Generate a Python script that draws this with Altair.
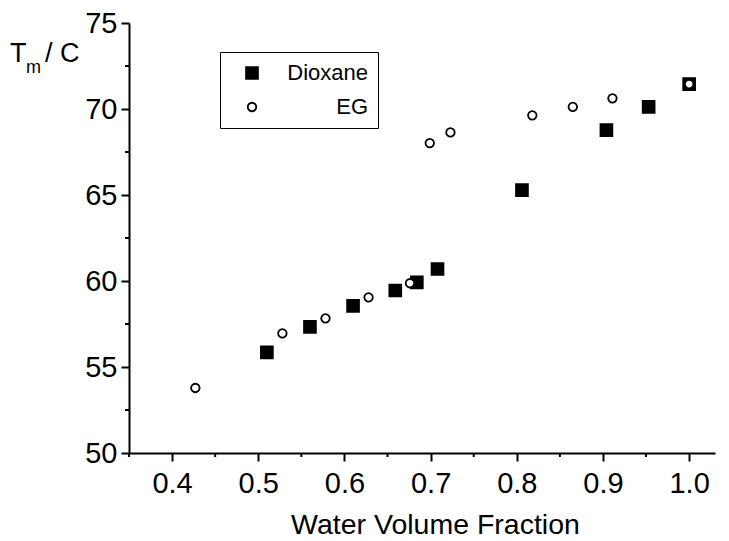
import altair as alt
import pandas as pd

# ---- data ----
dioxane_x = [0.510, 0.560, 0.610, 0.659, 0.684, 0.708, 0.806, 0.904, 0.953, 1.000]
dioxane_y = [55.85, 57.33, 58.55, 59.45, 59.92, 60.70, 65.28, 68.77, 70.12, 71.45]
eg_x = [0.427, 0.528, 0.578, 0.628, 0.676, 0.699, 0.723, 0.818, 0.865, 0.911, 1.000]
eg_y = [53.78, 56.95, 57.83, 59.05, 59.87, 68.02, 68.64, 69.63, 70.12, 70.62, 71.45]
series_names = ["Dioxane", "EG"]

x_major = [0.4, 0.5, 0.6, 0.7, 0.8, 0.9, 1.0]
x_minor = [0.35, 0.45, 0.55, 0.65, 0.75, 0.85, 0.95]
y_major = [50, 55, 60, 65, 70, 75]
y_minor = [52.5, 57.5, 62.5, 67.5, 72.5]

df = pd.DataFrame(
    {
        "series": [series_names[0]] * len(dioxane_x) + [series_names[1]] * len(eg_x),
        "x": dioxane_x + eg_x,
        "y": dioxane_y + eg_y,
    }
)

FONT = "Liberation Sans"
W, H = 586, 430
XDOM = [0.35, 1.03]
YDOM = [50, 75]

xscale = alt.Scale(domain=XDOM, nice=False, zero=False)
yscale = alt.Scale(domain=YDOM, nice=False, zero=False)

legend = alt.Legend(
    orient="none", legendX=91, legendY=29, title=None,
    strokeColor="black", padding=10, symbolOffset=11, labelOffset=105,
    labelFontSize=22, labelFont=FONT, labelColor="black", rowPadding=12,
    symbolStrokeWidth=1.8, symbolStrokeColor="black", labelAlign="right",
)

points = alt.Chart(df).mark_point(filled=True, stroke="black", strokeWidth=1.8, opacity=1).encode(
    x=alt.X("x:Q", scale=xscale,
            axis=alt.Axis(values=x_major, format=".1f", title="Water Volume Fraction",
                          titleX=306, titleY=80, titleAlign="center", titleBaseline="alphabetic",
                          titleFontSize=28.5, titleFont=FONT, titleFontWeight="normal",
                          titleColor="black",
                          labelFontSize=29, labelFont=FONT, labelColor="black",
                          labelBaseline="alphabetic",
                          labelPadding=31, tickSize=8, tickWidth=2, tickColor="black",
                          domainColor="black", domainWidth=2, grid=False,
                          labelFlush=False, labelOverlap=False)),
    y=alt.Y("y:Q", scale=yscale,
            axis=alt.Axis(values=y_major, format="d", title=None,
                          labelFontSize=29, labelFont=FONT, labelColor="black",
                          labelPadding=4, tickSize=8, tickWidth=2, tickColor="black",
                          domainColor="black", domainWidth=2, grid=False,
                          labelFlush=False, labelOverlap=False)),
    shape=alt.Shape("series:N", scale=alt.Scale(domain=series_names, range=["square", "circle"]),
                    legend=legend),
    fill=alt.Fill("series:N", scale=alt.Scale(domain=series_names, range=["black", "white"])),
    size=alt.Size("series:N", scale=alt.Scale(domain=series_names, range=[140, 72])),
)

xminor = alt.Chart(pd.DataFrame({"v": x_minor})).mark_rule(color="black", strokeWidth=2).encode(
    x=alt.X("v:Q", scale=xscale), y=alt.value(H), y2=alt.value(H + 4)
)
yminor = alt.Chart(pd.DataFrame({"v": y_minor})).mark_rule(color="black", strokeWidth=2).encode(
    y=alt.Y("v:Q", scale=yscale), x=alt.value(0), x2=alt.value(-4)
)

def label(txt, px, py, size):
    return alt.Chart(pd.DataFrame({"t": [txt]})).mark_text(
        align="left", baseline="alphabetic", font=FONT, fontSize=size, color="black"
    ).encode(text="t:N", x=alt.value(px), y=alt.value(py))

ytitle = label("T", -119, 39, 27) + label("m", -103, 50, 18) + label("/ C", -84, 39, 27)

chart = alt.layer(xminor, yminor, points, ytitle).properties(
    width=W, height=H,
    autosize=alt.AutoSizeParams(type="none"),
    padding={"left": 121, "top": 15, "right": 4, "bottom": 88},
).configure_view(stroke=None)

chart.save("out.html", embed_options={"renderer": "svg", "actions": False})
